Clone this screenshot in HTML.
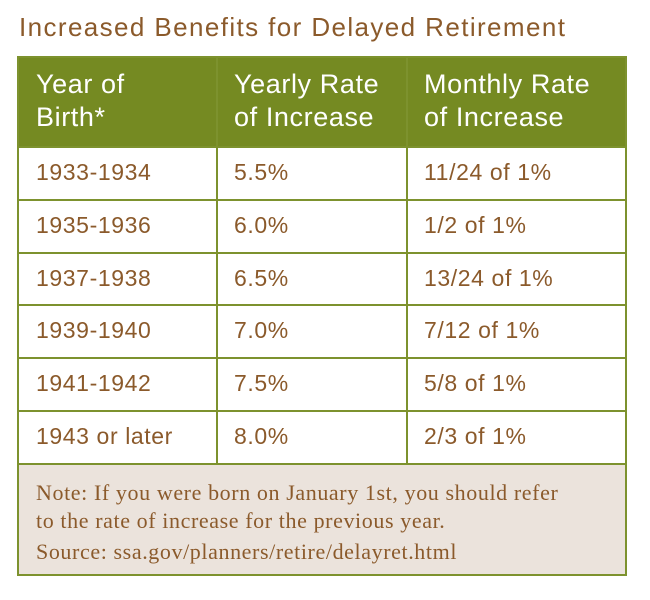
<!DOCTYPE html>
<html><head><meta charset="utf-8"><style>
body{margin:0;width:650px;height:600px;background:#fff;position:relative;font-family:"Liberation Sans",sans-serif;overflow:hidden}
.t{position:absolute;white-space:nowrap}
#title{left:19px;top:12px;font-size:26px;letter-spacing:1.4px;color:#8b5a2b}
#tbl{position:absolute;left:17px;top:56px;width:610px;border:2px solid #7d922e;box-sizing:border-box;height:520px}
#hdr{position:absolute;left:0;top:0;width:100%;height:89px;background:#758a22}
.h{color:#fff;font-size:27px;letter-spacing:0.6px;line-height:33px;top:10px}
.row{position:absolute;left:0;width:100%;border-top:2px solid #7d922e;box-sizing:border-box}
.c{font-size:23px;letter-spacing:0.6px;color:#8b5a2b}
.vl{position:absolute;width:2px;background:#7d922e;top:0;height:405px}
#note{position:absolute;left:0;top:405px;width:100%;height:111px;background:#ebe3dc;border-top:2px solid #7d922e;box-sizing:border-box}
.n{font-family:"Liberation Serif",serif;font-size:22px;letter-spacing:0.6px;color:#8b5a2b}
</style></head><body>
<div class="t" id="title">Increased Benefits for Delayed Retirement</div>
<div id="tbl">
<div id="hdr">
<div class="t h" style="left:17px">Year of<br>Birth*</div>
<div class="t h" style="left:215px">Yearly Rate<br>of Increase</div>
<div class="t h" style="left:405px">Monthly Rate<br>of Increase</div>
</div>
<div class="vl" style="left:197px"></div>
<div class="vl" style="left:387px"></div>
<div id="rows"></div>
<div id="note">
<div class="t n" style="left:17px;top:14px;line-height:28px">Note: If you were born on January 1st, you should refer<br>to the rate of increase for the previous year.</div>
<div class="t n" style="left:17px;top:74px">Source: ssa.gov/planners/retire/delayret.html</div>
</div>
</div>
<script>
const years=["1933-1934","1935-1936","1937-1938","1939-1940","1941-1942","1943 or later"];
const yearly=["5.5%","6.0%","6.5%","7.0%","7.5%","8.0%"];
const monthly=["11/24 of 1%","1/2 of 1%","13/24 of 1%","7/12 of 1%","5/8 of 1%","2/3 of 1%"];
const tbl=document.getElementById('tbl');
years.forEach((y,i)=>{
 const r=document.createElement('div');
 r.className='row';
 
 
 r.style.top=(88+i*52.8)+'px';
 r.style.height='53px';
 [[y,17],[yearly[i],215],[monthly[i],405]].forEach(([txt,x])=>{
  const c=document.createElement('div');
  c.className='t c';
  
  
  c.style.left=x+'px';c.style.top='11px';
  c.textContent=txt;r.appendChild(c);
 });
 tbl.insertBefore(r,document.getElementById('note'));
});
</script>
</body></html>
